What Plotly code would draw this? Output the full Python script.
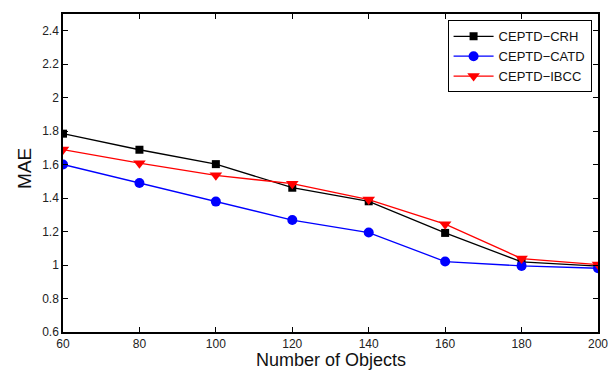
import plotly.graph_objects as go

# Number of objects on the x axis
num_objects = [60, 80, 100, 120, 140, 160, 180, 200]

# MAE for each method
mae_crh = [1.785, 1.689, 1.603, 1.462, 1.381, 1.192, 1.019, 0.993]
mae_catd = [1.601, 1.490, 1.379, 1.269, 1.194, 1.021, 0.995, 0.981]
mae_ibcc = [1.690, 1.609, 1.536, 1.486, 1.391, 1.244, 1.039, 1.003]

y_ticks = [0.6, 0.8, 1.0, 1.2, 1.4, 1.6, 1.8, 2.0, 2.2, 2.4]
y_tick_text = ["0.6", "0.8", "1", "1.2", "1.4", "1.6", "1.8", "2", "2.2", "2.4"]
x_ticks = [60, 80, 100, 120, 140, 160, 180, 200]

font_family = "Liberation Sans, Arial, sans-serif"

fig = go.Figure()
fig.add_trace(go.Scatter(
    x=num_objects, y=mae_crh, name="CEPTD\u2212CRH", mode="lines+markers",
    line=dict(color="black", width=1.3),
    marker=dict(symbol="square", size=8, color="black"),
))
fig.add_trace(go.Scatter(
    x=num_objects, y=mae_catd, name="CEPTD\u2212CATD", mode="lines+markers",
    line=dict(color="#0000ff", width=1.3),
    marker=dict(symbol="circle", size=10, color="#0000ff"),
))
fig.add_trace(go.Scatter(
    x=num_objects, y=mae_ibcc, name="CEPTD\u2212IBCC", mode="lines+markers",
    line=dict(color="#ff0000", width=1.3),
    marker=dict(symbol="triangle-down", size=11, color="#ff0000"),
))

axis_common = dict(
    showgrid=False, zeroline=False, showline=True, linecolor="black",
    linewidth=1.5, mirror="allticks", ticks="inside", ticklen=5,
    tickcolor="black", tickwidth=1, automargin=False,
    tickfont=dict(family=font_family, size=12, color="#222"),
)

fig.update_xaxes(range=[60, 200], tickvals=x_ticks, **axis_common)
fig.update_yaxes(range=[0.6, 2.5], tickvals=y_ticks, ticktext=y_tick_text,
                 **axis_common)

# Axis titles placed as annotations so they sit exactly where wanted
fig.add_annotation(text="Number of Objects", xref="paper", yref="paper",
                   x=0.5, y=-0.0895, xanchor="center", yanchor="middle",
                   showarrow=False,
                   font=dict(family=font_family, size=18, color="#111"))
fig.add_annotation(text="MAE", xref="paper", yref="paper",
                   x=-0.071, y=0.513, xanchor="center", yanchor="middle",
                   textangle=-90, showarrow=False,
                   font=dict(family=font_family, size=19, color="#111"))

fig.update_layout(
    width=616, height=370,
    margin=dict(l=63, r=18, t=14, b=38),
    paper_bgcolor="white", plot_bgcolor="white",
    showlegend=True,
    legend=dict(
        x=0.988, y=0.98, xanchor="right", yanchor="top",
        bgcolor="white", bordercolor="black", borderwidth=1,
        font=dict(family=font_family, size=13, color="#111"),
        tracegroupgap=0, itemwidth=40,
    ),
)

fig.write_html("out.html")
